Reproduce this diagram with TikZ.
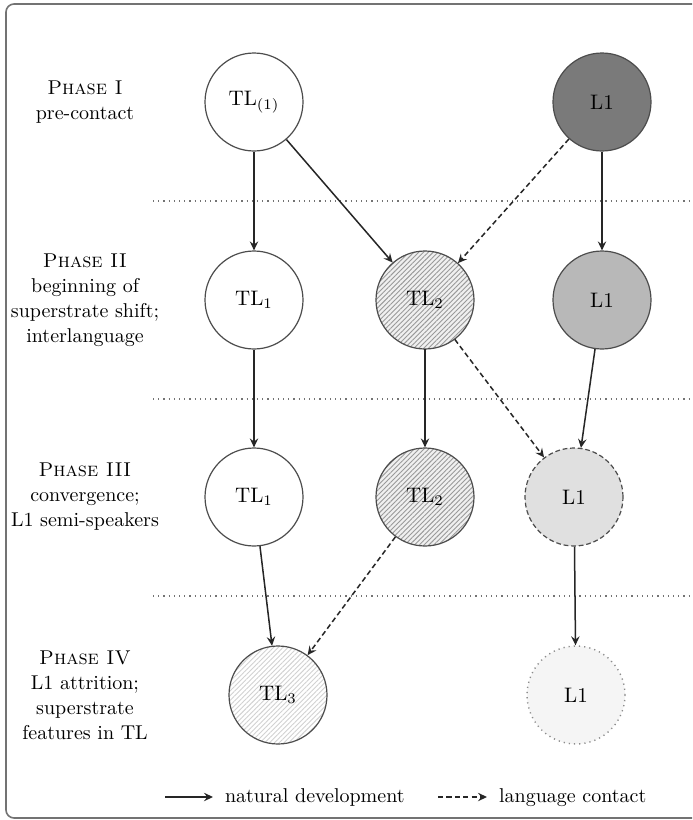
\documentclass[tikz,border=0pt]{standalone}
\usetikzlibrary{arrows.meta,patterns.meta}
\begin{document}
\begin{tikzpicture}[x=0.5pt,y=-0.5pt,
	lang/.style={circle,draw=black!70,line width=0.6pt,minimum size=49pt,inner sep=0pt,font=\fontsize{10.5}{12}\selectfont},
	hatched/.style={lang,preaction={fill=black!6},pattern={Lines[angle=45,distance=1.7pt,line width=0.45pt]},pattern color=black!40},
	merged/.style={lang,pattern={Lines[angle=45,distance=1.7pt,line width=0.45pt]},pattern color=black!18},
	phase/.style={align=center,font=\fontsize{10}{12.5}\selectfont},
	dev/.style={draw=black!85,line width=0.75pt,-{Stealth[length=4.5pt,width=4.2pt,inset=1.6pt]}},
	contact/.style={dev,dash pattern=on 2.6pt off 1.6pt},
	divider/.style={draw=black!55,dotted,line width=0.6pt}]
	\clip (0,0) rectangle (692,820);
	\draw[black!55,line width=0.8pt,rounded corners=4pt] (6,4) rectangle (720,818);
	\foreach \y in {201,399,596}
		\draw[divider] (153,\y) -- (692,\y);
	\node[phase] (ph1) at (85,102) {\textsc{Phase I}\\pre-contact};
	\node[phase] (ph2) at (85,300) {\textsc{Phase II}\\beginning of\\superstrate shift;\\interlanguage};
	\node[phase] (ph3) at (85,497) {\textsc{Phase III}\\convergence;\\L1 semi-speakers};
	\node[phase] (ph4) at (85,695) {\textsc{Phase IV}\\L1 attrition;\\superstrate\\features in TL};
	\node[lang] (tla) at (254,102) {TL\textsubscript{(1)}};
	\node[lang,fill=black!52] (lia) at (602,102) {L1};
	\node[lang] (tlb) at (254,300) {TL\textsubscript{1}};
	\node[hatched] (tsb) at (425,300) {TL\textsubscript{2}};
	\node[lang,fill=black!28] (lib) at (602,300) {L1};
	\node[lang] (tlc) at (254,497) {TL\textsubscript{1}};
	\node[hatched] (tsc) at (425,497) {TL\textsubscript{2}};
	\node[lang,fill=black!12,dash pattern=on 2.4pt off 1.4pt] (lic) at (574,497) {L1};
	\node[merged] (tmd) at (278,695) {TL\textsubscript{3}};
	\node[lang,fill=black!4,draw=black!45,dotted,line width=0.7pt] (lid) at (576,695) {L1};
	\draw[dev] (tla) -- (tlb);
	\draw[dev] (tla) -- (tsb);
	\draw[contact] (lia) -- (tsb);
	\draw[dev] (lia) -- (lib);
	\draw[dev] (tlb) -- (tlc);
	\draw[dev] (tsb) -- (tsc);
	\draw[contact] (tsb) -- (lic);
	\draw[dev] (lib) -- (lic);
	\draw[dev] (tlc) -- (tmd);
	\draw[contact] (tsc) -- (tmd);
	\draw[dev] (lic) -- (lid);
	\coordinate (nda) at (165,797);
	\coordinate (ndb) at (213,797);
	\coordinate (lca) at (438,797);
	\coordinate (lcb) at (487,797);
	\draw[dev] (nda) -- (ndb);
	\draw[contact] (lca) -- (lcb);
	\node[phase,anchor=base west] (ndt) at (218,802) {natural development};
	\node[phase,anchor=base west] (lct) at (492,802) {language contact};
\end{tikzpicture}
\end{document}
